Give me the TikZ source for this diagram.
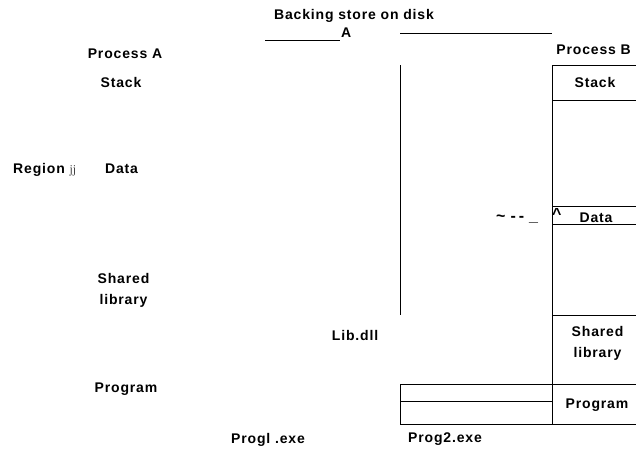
\documentclass[tikz,border=0pt]{standalone}
\usepackage{fontspec}
\setmainfont{Liberation Sans}[LetterSpace=6]
\newfontfamily\serifjj{Liberation Serif}
\begin{document}
\begin{tikzpicture}[x=1pt,y=-1pt,
  lbl/.style={font=\bfseries\fontsize{14}{20.5}\selectfont, inner sep=0pt, align=center, anchor=base},
  lblw/.style={lbl, anchor=base west},
  ln/.style={line width=0.8pt, black},
  thk/.style={line width=1.6pt, black}]
\useasboundingbox (0,0) rectangle (636,448);
% texts
\node[lbl] (bs) at (354,19) {Backing store on disk};
\node[lblw] (a) at (341,37) {A};
\node[lbl] (pa) at (125,58) {Process A};
\node[lbl, anchor=base east] (pb) at (631,54) {Process B};
\node[lbl] (sa) at (121,87) {Stack};
\node[lbl] (sb) at (595,87) {Stack};
\node[lblw] (rg) at (13,173) {Region {\serifjj\mdseries\color{black!75}\fontsize{12}{12}\selectfont jj}};
\node[lbl] (da) at (121.5,173) {Data};
\node[lblw, font=\bfseries\fontsize{16}{16}\selectfont] (tl) at (496,221) {\textasciitilde\hspace{5pt}-\hspace{3pt}-\hspace{5pt}\_};
\node[lblw, font=\bfseries\fontsize{16}{16}\selectfont] (ca) at (552,219.5) {\textasciicircum};
\node[lbl] (db) at (596,222) {Data};
\node[lbl] (sla) at (123.5,304) {Shared\\library};
\node[lbl] (ld) at (355,340) {Lib.dll};
\node[lbl] (slb) at (597.5,357) {Shared\\library};
\node[lbl] (pga) at (126,392) {Program};
\node[lbl] (pgb) at (597,408) {Program};
\node[lbl] (p1) at (268,443) {Progl .exe};
\node[lbl] (p2) at (445,442) {Prog2.exe};
% lines
\draw[thk] (265,40.5) -- (340,40.5);
\draw[ln] (400,33) -- (552,33);
\draw[ln] (400,65) -- (400,315);
% process B column
\draw[ln] (552,65) -- (636,65);
\draw[ln] (552,65) -- (552,424);
\draw[ln] (552,100) -- (636,100);
\draw[ln] (552,206) -- (636,206);
\draw[ln] (552,224) -- (636,224);
\draw[ln] (552,315) -- (636,315);
\draw[ln] (552,384) -- (636,384);
\draw[ln] (552,424) -- (636,424);
% file box
\draw[ln] (400,384) rectangle (552,424);
\draw[ln] (400,401) -- (552,401);
\end{tikzpicture}
\end{document}
